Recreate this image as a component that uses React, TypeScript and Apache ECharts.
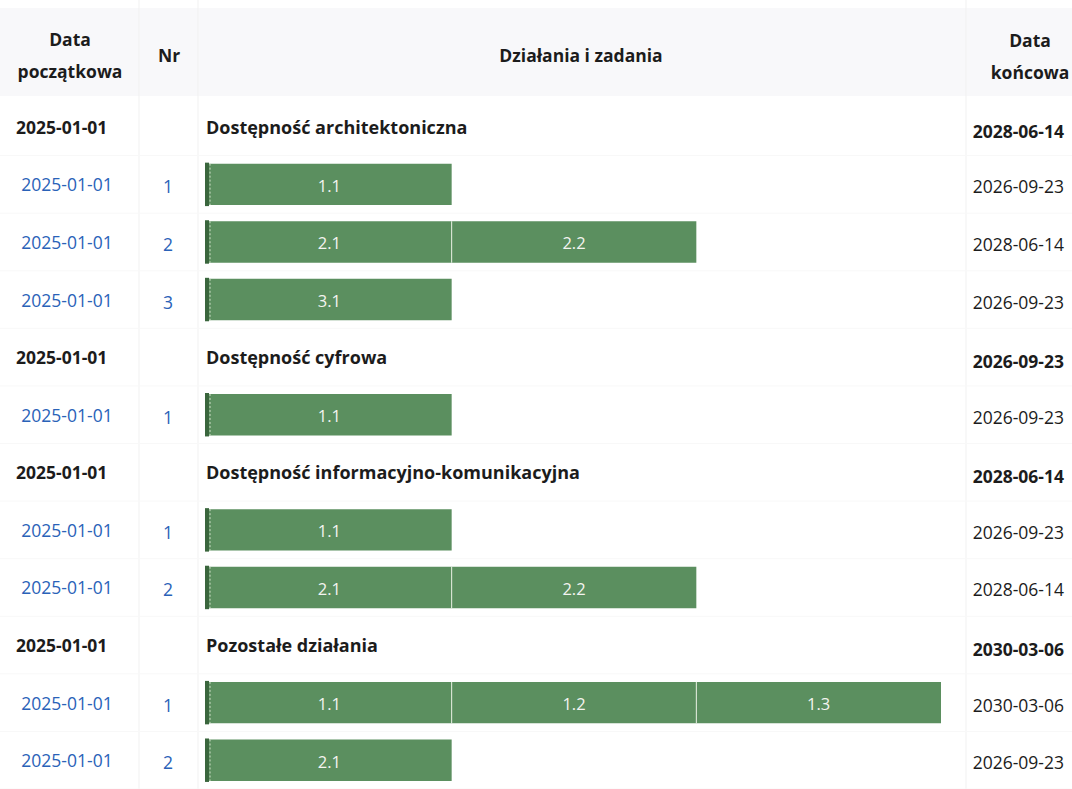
import React, { useEffect, useRef } from "react";
import * as echarts from "echarts";

// ---- data ----
const rowKind = ["group", "task", "task", "task", "group", "task", "group", "task", "task", "group", "task", "task"];
const rowStart = ["2025-01-01", "2025-01-01", "2025-01-01", "2025-01-01", "2025-01-01", "2025-01-01", "2025-01-01", "2025-01-01", "2025-01-01", "2025-01-01", "2025-01-01", "2025-01-01"];
const rowNr = ["", "1", "2", "3", "", "1", "", "1", "2", "", "1", "2"];
const rowTitle = ["Dostępność architektoniczna", "", "", "", "Dostępność cyfrowa", "", "Dostępność informacyjno-komunikacyjna", "", "", "Pozostałe działania", "", ""];
const rowEnd = ["2028-06-14", "2026-09-23", "2028-06-14", "2026-09-23", "2026-09-23", "2026-09-23", "2028-06-14", "2026-09-23", "2028-06-14", "2030-03-06", "2030-03-06", "2026-09-23"];
const rowCategories = rowKind.map((_, i) => "r" + i);

// segments: [row, start, end, label]
const segRow = [1, 2, 2, 3, 5, 7, 8, 8, 10, 10, 10, 11];
const segStart = ["2025-01-01", "2025-01-01", "2026-09-23", "2025-01-01", "2025-01-01", "2025-01-01", "2025-01-01", "2026-09-23", "2025-01-01", "2026-09-23", "2028-06-14", "2025-01-01"];
const segEnd = ["2026-09-23", "2026-09-23", "2028-06-14", "2026-09-23", "2026-09-23", "2026-09-23", "2026-09-23", "2028-06-14", "2026-09-23", "2028-06-14", "2030-03-06", "2026-09-23"];
const segLabel = ["1.1", "2.1", "2.2", "3.1", "1.1", "1.1", "2.1", "2.2", "1.1", "1.2", "1.3", "2.1"];

const headers = {
  start: ["Data", "początkowa"],
  nr: "Nr",
  tasks: "Działania i zadania",
  end: ["Data", "końcowa"],
};

const FONT = "'Open Sans', 'Noto Sans', sans-serif";
const BLUE = "#2a62b8";
const DARK = "#1c1c1c";
const GREEN = "#5b8f5f";
const GREEN_DARK = "#3a663d";
const FS = 17.5;

const ts = (d: string) => new Date(d + "T00:00:00Z").getTime();

export default function App() {
  const ref = useRef<HTMLDivElement>(null);
  useEffect(() => {
    if (!ref.current) return;
    const chart = echarts.init(ref.current, null, { renderer: "svg" });

    const barData = segRow.map((r, i) => [ts(segStart[i]), ts(segEnd[i]), r, segLabel[i]]);
    const tableData = rowKind.map((_, i) => [ts(rowStart[i]), i]);
    const hdr = (x: number, y: number, text: string) => ({
      type: "text",
      x,
      y,
      style: { text, font: `bold ${FS}px ${FONT}`, fill: DARK, align: "center", verticalAlign: "middle" },
    });

    chart.setOption({
      animation: false,
      backgroundColor: "#ffffff",
      grid: { left: 207, top: 98, width: 734, height: 701, containLabel: false },
      xAxis: {
        type: "time",
        min: ts("2025-01-01"),
        max: ts("2030-03-06"),
        show: false,
      },
      yAxis: {
        type: "category",
        data: rowCategories,
        inverse: true,
        show: false,
      },
      graphic: [
        { type: "rect", z: -10, shape: { x: 0, y: 8, width: 1072, height: 88 }, style: { fill: "#f8f8fa" } },
        { type: "line", z: -5, shape: { x1: 139, y1: 0, x2: 139, y2: 789 }, style: { stroke: "#f1f1f1", lineWidth: 1 } },
        { type: "line", z: -5, shape: { x1: 198, y1: 0, x2: 198, y2: 789 }, style: { stroke: "#f1f1f1", lineWidth: 1 } },
        { type: "line", z: -5, shape: { x1: 966, y1: 0, x2: 966, y2: 789 }, style: { stroke: "#f1f1f1", lineWidth: 1 } },
        hdr(70, 39, headers.start[0]),
        hdr(70, 71, headers.start[1]),
        hdr(169, 55, headers.nr),
        hdr(581, 55, headers.tasks),
        hdr(1030, 40, headers.end[0]),
        hdr(1030, 72, headers.end[1]),
      ],
      series: [
        {
          type: "custom",
          name: "table",
          clip: false,
          encode: { x: 0, y: 1 },
          data: tableData,
          renderItem: (params: any, api: any) => {
            const i = params.dataIndex;
            const p = api.coord([api.value(0), api.value(1)]);
            const y = p[1];
            const isGroup = rowKind[i] === "group";
            const bandH = api.size([0, 1])[1];
            const children: any[] = [];
            children.push({
              type: "line",
              z2: -1,
              shape: { x1: 0, y1: y + bandH / 2, x2: 1072, y2: y + bandH / 2 },
              style: { stroke: "#f8f8f8", lineWidth: 1 },
            });
            if (isGroup) {
              children.push({ type: "text", style: { x: 16, y, text: rowStart[i], font: `bold ${FS}px ${FONT}`, fill: DARK, align: "left", verticalAlign: "middle" } });
              children.push({ type: "text", style: { x: p[0] - 1, y, text: rowTitle[i], font: `bold 18px ${FONT}`, fill: DARK, align: "left", verticalAlign: "middle" } });
              children.push({ type: "text", style: { x: 1064, y: y + 4, text: rowEnd[i], font: `bold ${FS}px ${FONT}`, fill: DARK, align: "right", verticalAlign: "middle" } });
            } else {
              children.push({ type: "text", style: { x: 67, y, text: rowStart[i], font: `${FS}px ${FONT}`, fill: BLUE, align: "center", verticalAlign: "middle" } });
              children.push({ type: "text", style: { x: 168, y: y + 2, text: rowNr[i], font: `${FS}px ${FONT}`, fill: BLUE, align: "center", verticalAlign: "middle" } });
              children.push({ type: "text", style: { x: 1064, y: y + 2, text: rowEnd[i], font: `${FS}px ${FONT}`, fill: DARK, align: "right", verticalAlign: "middle" } });
            }
            return { type: "group", children };
          },
        },
        {
          type: "custom",
          name: "tasks",
          clip: false,
          encode: { x: [0, 1], y: 2 },
          data: barData,
          renderItem: (params: any, api: any) => {
            const start = api.coord([api.value(0), api.value(2)]);
            const end = api.coord([api.value(1), api.value(2)]);
            const h = api.size([0, 1])[1] * 0.72;
            const x0 = start[0];
            const w = end[0] - x0;
            const isFirst = api.value(0) === ts("2025-01-01");
            const children: any[] = [
              { type: "rect", shape: { x: x0, y: start[1] - h / 2, width: w, height: h }, style: { fill: GREEN } },
              {
                type: "text",
                style: {
                  x: x0 + w / 2,
                  y: start[1] + 1,
                  text: String(segLabel[params.dataIndex]),
                  font: `16.5px ${FONT}`,
                  fill: "#f4f4f0",
                  align: "center",
                  verticalAlign: "middle",
                },
              },
            ];
            if (isFirst) {
              children.push({ type: "rect", shape: { x: x0 - 2, y: start[1] - h / 2 - 1, width: 4, height: h + 2 }, style: { fill: GREEN_DARK } });
              children.push({ type: "line", shape: { x1: x0 + 3, y1: start[1] - h / 2, x2: x0 + 3, y2: start[1] + h / 2 }, style: { stroke: "#cfe0c8", lineWidth: 1, lineDash: [2, 2] } });
            } else {
              children.push({ type: "line", shape: { x1: x0, y1: start[1] - h / 2, x2: x0, y2: start[1] + h / 2 }, style: { stroke: "#e6efe0", lineWidth: 1 } });
            }
            return { type: "group", children };
          },
        },
      ],
    });
    return () => chart.dispose();
  }, []);
  return <div ref={ref} style={{ position: "fixed", left: 0, top: 0, width: 1072, height: 789 }} />;
}
